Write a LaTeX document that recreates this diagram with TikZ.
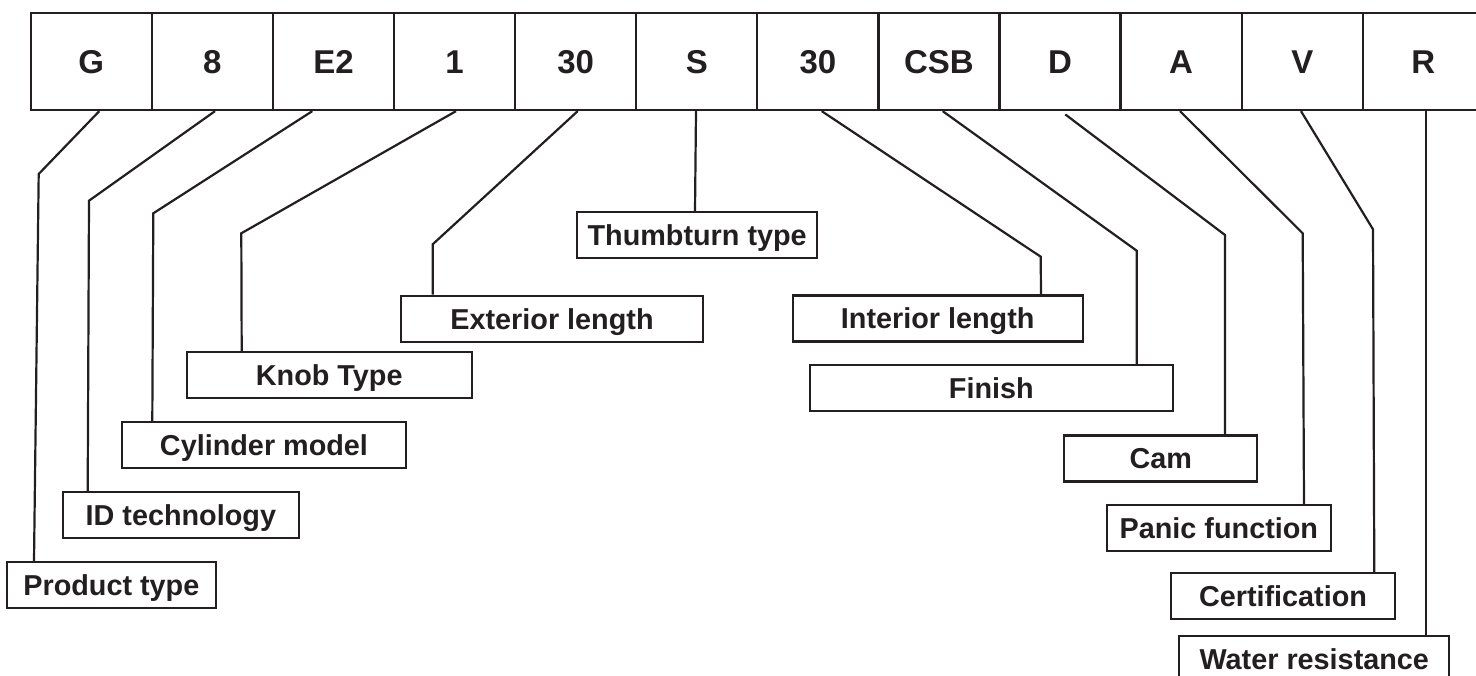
\documentclass[tikz,border=0pt]{standalone}
\usepackage{fontspec}
\setmainfont{Liberation Sans}
\definecolor{ink}{RGB}{35,31,32}
\begin{document}
\begin{tikzpicture}[x=1pt,y=-1pt,
  cell/.style={draw=ink,line width=2.3pt,minimum width=121.1pt,minimum height=96.7pt,inner sep=0pt,
    text=ink,font=\fontsize{33}{36}\selectfont\bfseries,text height=23.6pt,text depth=0pt},
  lbl/.style={draw=ink,line width=2.3pt,minimum height=46pt,inner sep=0pt,
    text=ink,font=\fontsize{28.8}{32}\selectfont\bfseries,text height=20.6pt,text depth=0pt},
  conn/.style={draw=ink,line width=2.2pt}]
\useasboundingbox (0,0) rectangle (1476,676);
\clip (0,0) rectangle (1476,676);
% top cells
\node[cell] (cG)   at (91.25,61.65)   {G};
\node[cell] (c8)   at (212.35,61.65)  {8};
\node[cell] (cE2)  at (333.45,61.65)  {E2};
\node[cell] (c1)   at (454.55,61.65)  {1};
\node[cell] (c30a) at (575.65,61.65)  {30};
\node[cell] (cS)   at (696.75,61.65)  {S};
\node[cell] (c30b) at (817.85,61.65)  {30};
\node[cell] (cCSB) at (938.95,61.65)  {CSB};
\node[cell] (cD)   at (1060.05,61.65) {D};
\node[cell] (cA)   at (1181.15,61.65) {A};
\node[cell] (cV)   at (1302.25,61.65) {V};
\node[cell] (cR)   at (1423.35,61.65) {R};
% labels
\node[lbl,minimum width=209.3pt] (prod)  at (111.35,585.3) {Product type};
\node[lbl,minimum width=236.3pt] (idt)   at (180.85,515)   {ID technology};
\node[lbl,minimum width=284.6pt] (cyl)   at (264,445.3)    {Cylinder model};
\node[lbl,minimum width=285pt]   (knob)  at (329.2,375.3)  {Knob Type};
\node[lbl,minimum width=302pt]   (ext)   at (552,318.85)   {Exterior length};
\node[lbl,minimum width=240.3pt] (thumb) at (697.15,235.35){Thumbturn type};
\node[lbl,minimum width=290pt]   (int)   at (937.7,318.5)  {Interior length};
\node[lbl,minimum width=362.7pt] (fin)   at (991.35,388.15){Finish};
\node[lbl,minimum width=193pt]   (cam)   at (1160.8,458.35){Cam};
\node[lbl,minimum width=224.3pt] (panic) at (1218.85,528)  {Panic function};
\node[lbl,minimum width=224.6pt] (cert)  at (1283,596)     {Certification};
\node[lbl,minimum width=270pt]   (water) at (1314.3,658.7) {Water resistance};
% bends
\coordinate (bG)   at (38.7,174);
\coordinate (b8)   at (89,200.7);
\coordinate (bE2)  at (153.3,213.3);
\coordinate (b1)   at (241.3,233.3);
\coordinate (b30a) at (432.7,244.3);
\coordinate (b30b) at (1040.7,256.7);
\coordinate (bCSB) at (1136.7,250.7);
\coordinate (bD)   at (1225,235);
\coordinate (bA)   at (1302.7,233.3);
\coordinate (bV)   at (1373,229.3);
% connectors
\draw[conn] ([xshift=8.05pt]cG.south) -- (bG) -- ([xshift=-77.35pt]prod.north);
\draw[conn] ([xshift=2.65pt]c8.south) -- (b8) -- ([xshift=-93.15pt]idt.north);
\draw[conn] ([xshift=-21.15pt]cE2.south) -- (bE2) -- ([xshift=-111.7pt]cyl.north);
\draw[conn] ([xshift=1.45pt]c1.south) -- (b1) -- ([xshift=-87.5pt]knob.north);
\draw[conn] ([xshift=2.05pt]c30a.south) -- (b30a) -- ([xshift=-119.3pt]ext.north);
\draw[conn] ([xshift=-0.75pt]cS.south) -- ([xshift=-2.15pt]thumb.north);
\draw[conn] ([xshift=3.85pt]c30b.south) -- (b30b) -- ([xshift=103.3pt]int.north);
\draw[conn] ([xshift=3.75pt]cCSB.south) -- (bCSB) -- ([xshift=145.35pt]fin.north);
\draw[conn] ([xshift=5.25pt,yshift=-3.3pt]cD.south) -- (bD) -- ([xshift=64.2pt]cam.north);
\draw[conn] ([xshift=-1.15pt]cA.south) -- (bA) -- ([xshift=85.15pt]panic.north);
\draw[conn] ([xshift=-1.25pt]cV.south) -- (bV) -- ([xshift=91.3pt]cert.north);
\draw[conn] ([xshift=2.65pt]cR.south) -- ([xshift=111.7pt]water.north);
\end{tikzpicture}
\end{document}
